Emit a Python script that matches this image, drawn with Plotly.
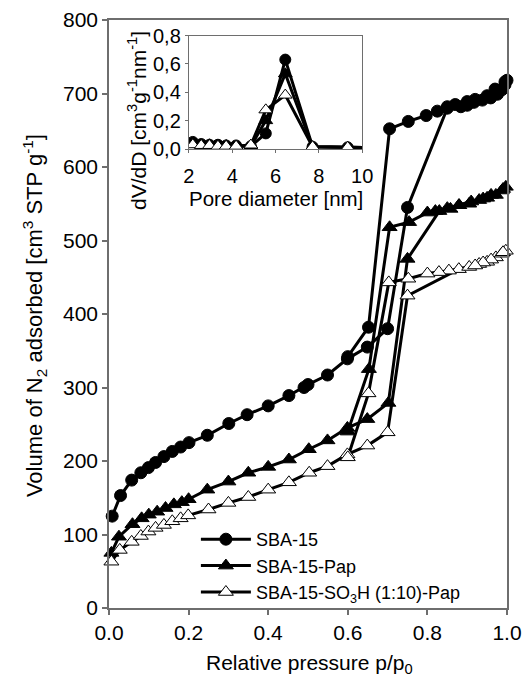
import plotly.graph_objects as go

# ---------------- main isotherm data ----------------
sba_x = [0.008, 0.029, 0.057, 0.080, 0.099, 0.117, 0.138, 0.159, 0.180, 0.201, 0.247, 0.301,
         0.347, 0.400, 0.452, 0.490, 0.500, 0.549, 0.599, 0.649, 0.700, 0.750, 0.850, 0.884,
         0.900, 0.917, 0.938, 0.959, 0.976, 0.987, 0.995, 1.000,
         0.995, 0.970, 0.950, 0.920, 0.900, 0.870, 0.850, 0.825, 0.797, 0.752, 0.705, 0.652, 0.600]
sba_y = [125, 153, 174, 184, 191, 198, 206, 213, 219, 225, 235, 251,
         263, 275, 289, 300, 304, 317, 339, 355, 380, 545, 680, 682,
         684, 688, 691, 694, 699, 705, 712, 718,
         716, 706, 697, 692, 689, 685, 682, 676, 670, 662, 652, 382, 342]

pap_x = [0.006, 0.025, 0.059, 0.082, 0.100, 0.121, 0.142, 0.163, 0.183, 0.200, 0.247, 0.300,
         0.350, 0.400, 0.452, 0.502, 0.549, 0.599, 0.649, 0.702, 0.750, 0.830, 0.858, 0.879,
         0.905, 0.930, 0.950, 0.972, 0.987, 0.997,
         0.990, 0.960, 0.940, 0.910, 0.880, 0.850, 0.820, 0.800, 0.754, 0.705, 0.653, 0.600]
pap_y = [75, 97, 114, 122, 127, 131, 136, 141, 144, 148, 161, 172,
         184, 192, 202, 216, 228, 245, 257, 279, 475, 540, 543, 548,
         550, 555, 558, 562, 568, 573,
         570, 562, 557, 553, 548, 544, 540, 538, 525, 518, 325, 240]

so3h_x = [0.006, 0.027, 0.057, 0.080, 0.099, 0.117, 0.138, 0.159, 0.180, 0.199, 0.250, 0.300,
          0.350, 0.400, 0.452, 0.503, 0.549, 0.599, 0.649, 0.700, 0.750, 0.879, 0.905, 0.930,
          0.950, 0.972, 0.987, 0.997,
          0.990, 0.960, 0.940, 0.920, 0.854, 0.829, 0.800, 0.752, 0.703, 0.652, 0.600]
so3h_y = [63, 79, 90, 98, 104, 109, 113, 118, 122, 126, 134, 143,
          151, 161, 171, 184, 193, 209, 221, 239, 425, 461, 464, 468,
          471, 477, 482, 486,
          484, 474, 470, 466, 459, 457, 455, 448, 443, 292, 205]

# ---------------- inset pore size distribution ----------------
psd_x = [2.18, 2.57, 2.95, 3.34, 3.72, 4.18, 4.86, 5.55, 6.45, 7.71, 9.33, 10.5]
psd_sba = [0.050, 0.035, 0.030, 0.030, 0.025, 0.025, 0.020, 0.110, 0.630, 0.016, 0.012, 0.010]
psd_pap = [0.040, 0.030, 0.030, 0.025, 0.025, 0.020, 0.020, 0.200, 0.530, 0.016, 0.012, 0.010]
psd_so3h = [0.030, 0.025, 0.025, 0.020, 0.020, 0.020, 0.028, 0.276, 0.380, 0.016, 0.012, 0.010]

names = ["SBA-15", "SBA-15-Pap", "SBA-15-SO<sub>3</sub>H (1:10)-Pap"]
x_ticks = [0.0, 0.2, 0.4, 0.6, 0.8, 1.0]
x_ticktext = ["0.0", "0.2", "0.4", "0.6", "0.8", "1.0"]
y_ticks = [0, 100, 200, 300, 400, 500, 600, 700, 800]
in_x_ticks = [2, 4, 6, 8, 10]
in_y_ticks = [0.0, 0.2, 0.4, 0.6, 0.8]
in_y_ticktext = ["0,0", "0,2", "0,4", "0,6", "0,8"]

FONT = "Liberation Sans, Arial, sans-serif"
AX = "#6e6e6e"

styles = [
    dict(symbol="circle", size=12, color="black", line=dict(color="black", width=1)),
    dict(symbol="triangle-up", size=13, color="black", line=dict(color="black", width=1)),
    dict(symbol="triangle-up", size=13, color="white", line=dict(color="black", width=1)),
]

fig = go.Figure()
for nm, xs, ys, st in zip(names, [sba_x, pap_x, so3h_x], [sba_y, pap_y, so3h_y], styles):
    fig.add_trace(go.Scatter(x=xs, y=ys, mode="lines+markers", name=nm,
                             line=dict(color="black", width=3), marker=st,
                             cliponaxis=False, xaxis="x", yaxis="y"))

for ys, st in zip([psd_sba, psd_pap, psd_so3h], styles):
    st2 = dict(st)
    st2["size"] = st["size"] - 1
    fig.add_trace(go.Scatter(x=psd_x, y=ys, mode="lines+markers", showlegend=False,
                             line=dict(color="black", width=3), marker=st2,
                             xaxis="x2", yaxis="y2"))

L, R, T, B = 109, 15.5, 20, 68
W, H = 523, 676
pw, ph = W - L - R, H - T - B

def px2x(p):
    return (p - L) / pw

def py2y(p):
    return (H - B - p) / ph

common_ax = dict(showgrid=False, zeroline=False, showline=True, linecolor=AX,
                 mirror=True, ticks="outside", tickcolor=AX, automargin=False)

fig.update_layout(
    width=W, height=H,
    margin=dict(l=L, r=R, t=T, b=B, pad=0, autoexpand=False),
    paper_bgcolor="white", plot_bgcolor="white",
    font=dict(family=FONT, color="black", size=21),
    showlegend=True,
    legend=dict(x=px2x(196), y=py2y(521), xanchor="left", yanchor="top",
                bgcolor="rgba(0,0,0,0)", font=dict(size=18, family=FONT),
                tracegroupgap=0, itemwidth=50),
    xaxis=dict(domain=[0, 1], range=[0, 1], tickvals=x_ticks, ticktext=x_ticktext,
               linewidth=1.5, ticklen=5, tickwidth=1.5, tickfont=dict(size=21), **common_ax),
    yaxis=dict(domain=[0, 1], range=[0, 800], tickvals=y_ticks,
               linewidth=1.5, ticklen=5, tickwidth=1.5, tickfont=dict(size=21), **common_ax),
    xaxis2=dict(domain=[px2x(189), px2x(362.5)], range=[2, 10], anchor="y2",
                tickvals=in_x_ticks, linewidth=1.2, ticklen=3, tickfont=dict(size=20),
                ticklabelstandoff=6, **common_ax),
    yaxis2=dict(domain=[py2y(149), py2y(35.5)], range=[0, 0.8], anchor="x2",
                tickvals=in_y_ticks, ticktext=in_y_ticktext, linewidth=1.2, ticklen=3,
                tickfont=dict(size=20), **common_ax),
    annotations=[
        dict(text="dV/dD [cm<sup>3</sup>g<sup>-1</sup>nm<sup>-1</sup>]",
             x=px2x(137), y=py2y(120), xref="paper", yref="paper",
             textangle=-90, showarrow=False, font=dict(size=21, family=FONT),
             xanchor="center", yanchor="middle"),
        dict(text="Pore diameter [nm]", x=px2x(276), y=py2y(199), xref="paper", yref="paper",
             showarrow=False, font=dict(size=20.5, family=FONT),
             xanchor="center", yanchor="middle"),
        dict(text="Volume of N<sub>2</sub> adsorbed [cm<sup>3</sup> STP g<sup>-1</sup>]",
             x=px2x(34), y=py2y(316), xref="paper", yref="paper",
             textangle=-90, showarrow=False, font=dict(size=22, family=FONT),
             xanchor="center", yanchor="middle"),
        dict(text="Relative pressure p/p<sub>0</sub>", x=px2x(310), y=py2y(664),
             xref="paper", yref="paper", showarrow=False, font=dict(size=21, family=FONT),
             xanchor="center", yanchor="middle"),
    ],
)

fig.write_html("out.html")
